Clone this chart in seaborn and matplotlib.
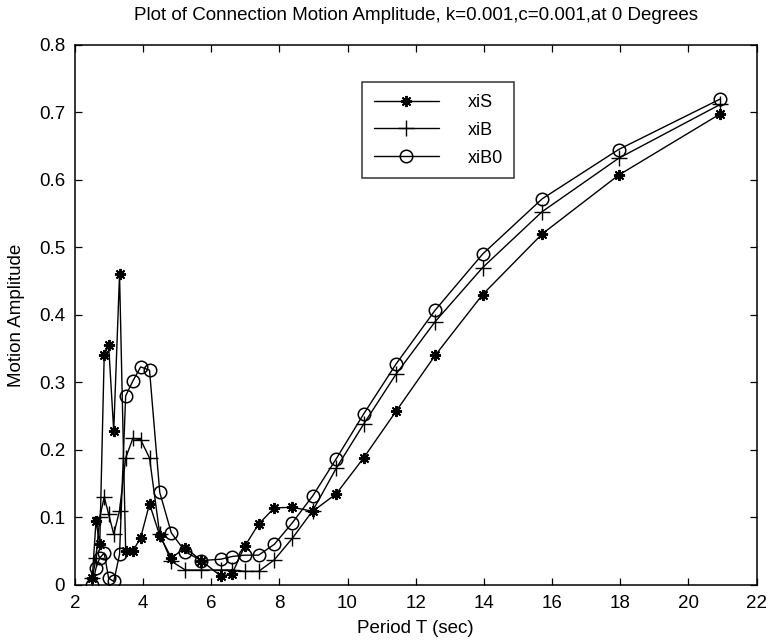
import pandas as pd
import matplotlib
matplotlib.use("Agg")
import matplotlib.pyplot as plt
import seaborn as sns

# period grid shared by the three curves (sec)
period = [2.51, 2.62, 2.73, 2.86, 2.99, 3.14, 3.31, 3.49, 3.70, 3.93,
          4.19, 4.49, 4.83, 5.24, 5.71, 6.28, 6.61, 6.98, 7.39, 7.85,
          8.38, 8.98, 9.67, 10.47, 11.42, 12.57, 13.96, 15.71, 17.95, 20.94]

xiS = [0.010, 0.095, 0.060, 0.340, 0.355, 0.228, 0.460, 0.050, 0.050, 0.070,
       0.120, 0.073, 0.040, 0.055, 0.036, 0.013, 0.016, 0.057, 0.090, 0.114,
       0.115, 0.109, 0.135, 0.188, 0.257, 0.340, 0.430, 0.520, 0.607, 0.698]

xiB = [0.010, 0.040, 0.100, 0.130, 0.105, 0.075, 0.110, 0.188, 0.217, 0.215,
       0.188, 0.075, 0.035, 0.022, 0.022, 0.022, 0.022, 0.020, 0.020, 0.037,
       0.069, 0.110, 0.173, 0.238, 0.312, 0.390, 0.470, 0.553, 0.632, 0.712]

xiB0 = [0.000, 0.025, 0.040, 0.047, 0.010, 0.005, 0.045, 0.280, 0.302, 0.323,
        0.318, 0.137, 0.077, 0.049, 0.036, 0.038, 0.042, 0.044, 0.044, 0.060,
        0.092, 0.132, 0.187, 0.253, 0.327, 0.407, 0.490, 0.572, 0.645, 0.720]

x_ticks = [2, 4, 6, 8, 10, 12, 14, 16, 18, 20, 22]
y_ticks = [0, 0.1, 0.2, 0.3, 0.4, 0.5, 0.6, 0.7, 0.8]
y_labels = ["0", "0.1", "0.2", "0.3", "0.4", "0.5", "0.6", "0.7", "0.8"]

sns.set_style("ticks")
plt.rcParams['font.family'] = ['Liberation Sans', 'DejaVu Sans']
plt.rcParams.update({"text.color": "black", "axes.labelcolor": "black",
                     "xtick.color": "black", "ytick.color": "black"})

fig = plt.figure(figsize=(7.72, 6.42), dpi=100)
ax = fig.add_axes([0.097, 0.089, 0.883, 0.841])

df = pd.DataFrame({"T": period, "xiS": xiS, "xiB": xiB, "xiB0": xiB0})

sns.lineplot(data=df, x="T", y="xiS", ax=ax, color="black", lw=1.0,
             marker=(8, 2, 0), markersize=8, mew=1.4, mec="black",
             label="xiS", sort=False)
sns.lineplot(data=df, x="T", y="xiB", ax=ax, color="black", lw=1.0,
             marker="+", markersize=11, mew=1.0, mec="black",
             label="xiB", sort=False)
sns.lineplot(data=df, x="T", y="xiB0", ax=ax, color="black", lw=1.0,
             marker="o", markersize=9, mew=1.1, mec="black", mfc="none",
             label="xiB0", sort=False)

ax.set_xlim(2, 22)
ax.set_ylim(0, 0.8)
ax.set_xticks(x_ticks)
ax.set_yticks(y_ticks)
ax.set_yticklabels(y_labels)
ax.tick_params(direction="in", top=True, right=True, length=5, width=0.9,
               labelsize=13.5, pad=7, colors="black")
for s in ax.spines.values():
    s.set_linewidth(1.1)
    s.set_color("black")

ax.set_xlabel("Period T (sec)", fontsize=13.5, labelpad=6)
ax.set_ylabel("Motion Amplitude", fontsize=13.5, labelpad=10)
ax.set_title("Plot of Connection Motion Amplitude, k=0.001,c=0.001,at 0 Degrees",
             fontsize=13.5, pad=18)

leg = ax.legend(loc="upper left", bbox_to_anchor=(0.421, 0.931), frameon=True,
                fancybox=False, edgecolor="black", fontsize=13,
                handlelength=3.6, handletextpad=1.6, borderpad=0.65,
                labelspacing=0.6, borderaxespad=0)
leg.get_frame().set_linewidth(1.1)

fig.savefig("out.png", dpi=100)
